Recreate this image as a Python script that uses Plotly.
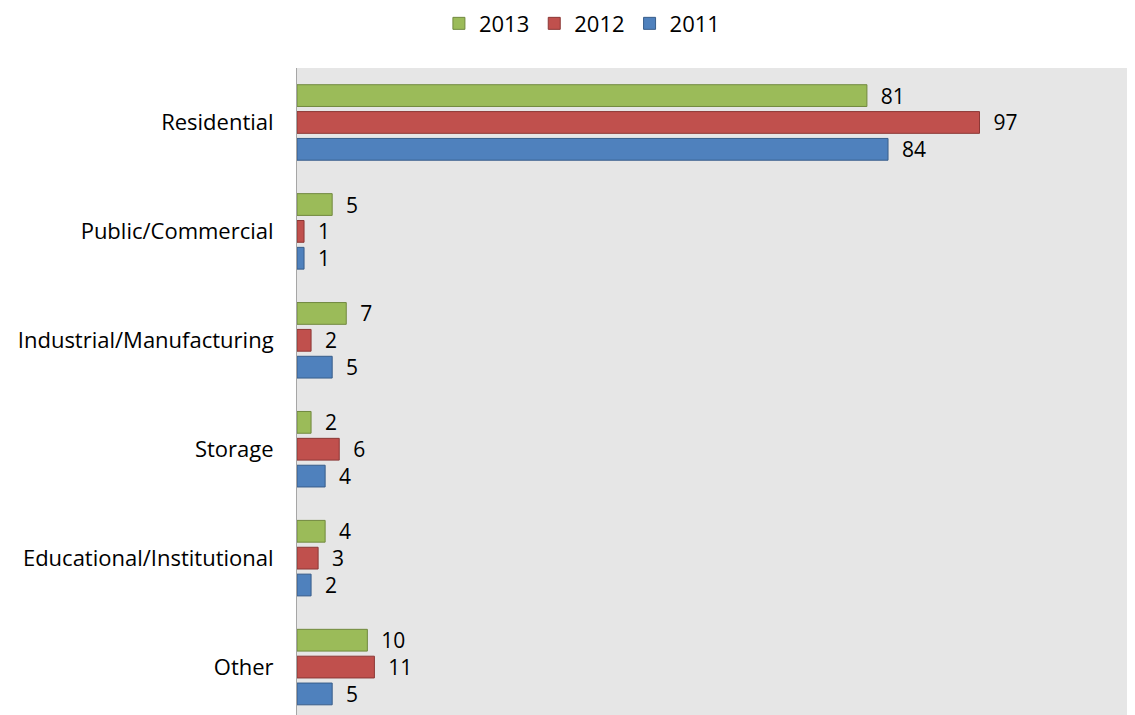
import plotly.graph_objects as go

categories = ["Residential", "Public/Commercial", "Industrial/Manufacturing",
              "Storage", "Educational/Institutional", "Other"]
years = ["2013", "2012", "2011"]
values_2013 = [81, 5, 7, 2, 4, 10]
values_2012 = [97, 1, 2, 6, 3, 11]
values_2011 = [84, 1, 5, 4, 2, 5]

series = [
    ("2013", values_2013, "#9BBB59", "#71893F"),
    ("2012", values_2012, "#C0504D", "#8C3836"),
    ("2011", values_2011, "#4F81BD", "#385D8A"),
]

font_family = "Open Sans, Noto Sans, sans-serif"

fig = go.Figure()
for name, vals, fill, edge in series:
    fig.add_trace(go.Bar(
        y=categories,
        x=vals,
        name=name,
        orientation="h",
        marker=dict(color=fill, line=dict(color=edge, width=1)),
        text=vals,
        texttemplate="\u00a0\u00a0%{x}",
        textposition="outside",
        constraintext="none",
        textfont=dict(size=21, color="black", family=font_family),
        cliponaxis=False,
    ))

# page body has an 8px margin, so the figure is sized/offset to compensate
fig.update_layout(
    width=1127,
    height=707,
    margin=dict(l=289, r=0, t=60, b=0),
    paper_bgcolor="white",
    plot_bgcolor="#E6E6E6",
    barmode="group",
    bargap=0.26,
    bargroupgap=0.19,
    font=dict(family=font_family, size=22, color="black"),
    showlegend=True,
    legend=dict(
        orientation="h",
        x=0.34, xanchor="center",
        yref="container",
        y=0.978, yanchor="middle",
        font=dict(size=22, color="black"),
    ),
    xaxis=dict(
        range=[0, 119.1],
        showticklabels=False,
        showgrid=False,
        zeroline=False,
        ticks="",
    ),
    yaxis=dict(
        range=[5.44, -0.5],
        showline=True,
        linecolor="#A6A6A6",
        linewidth=1,
        ticks="",
        ticklabelstandoff=18,
        tickfont=dict(size=22, color="black"),
        showgrid=False,
    ),
)

fig.write_html("out.html")
